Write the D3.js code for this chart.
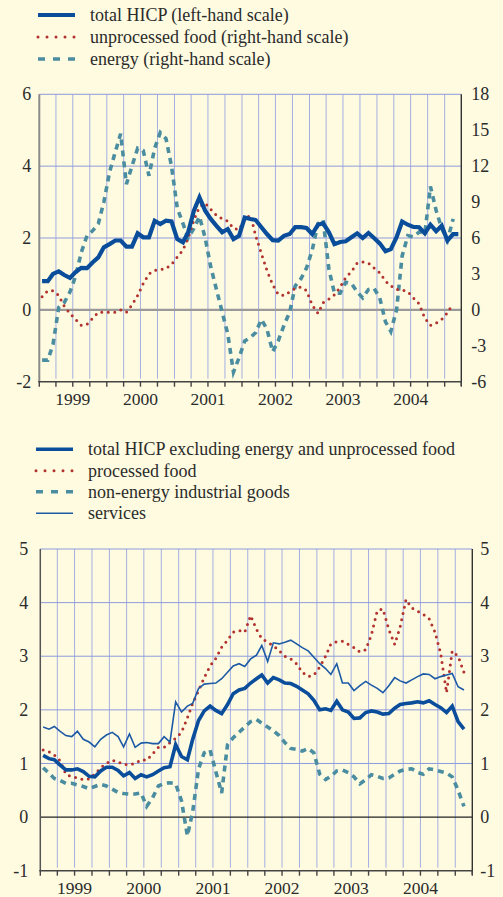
<!DOCTYPE html>
<html>
<head>
<meta charset="utf-8">
<script src="https://cdn.jsdelivr.net/npm/d3@7"></script>
<style>
  body { margin: 0; background: #fefbe1; }
  svg { display: block; }
  svg text { font-family: "Liberation Serif", "Times New Roman", serif; }
</style>
</head>
<body>
<script>
// monthly observations from January 1999, plotted mid-month
const yearLabels = [1999, 2000, 2001, 2002, 2003, 2004];

// upper chart: left scale for total HICP, right scale for the two volatile parts
const leftTicksTop = [-2, 0, 2, 4, 6];
const rightTicksTop = [-6, -3, 0, 3, 6, 9, 12, 15, 18];

const hicpTotal = [0.8, 0.8, 1.0, 1.07, 0.97, 0.89, 1.05, 1.17, 1.16, 1.32, 1.46, 1.74,
  1.83, 1.93, 1.93, 1.76, 1.76, 2.13, 2.02, 2.02, 2.48, 2.39, 2.48, 2.46,
  1.97, 1.88, 2.16, 2.76, 3.13, 2.76, 2.53, 2.34, 2.16, 2.25, 1.97, 2.06,
  2.57, 2.53, 2.5, 2.3, 2.11, 1.94, 1.93, 2.06, 2.11, 2.3, 2.3, 2.28,
  2.11, 2.37, 2.41, 2.16, 1.83, 1.89, 1.91, 2.02, 2.13, 2.0, 2.14, 2.0,
  1.85, 1.63, 1.69, 2.02, 2.46, 2.37, 2.31, 2.3, 2.13, 2.37, 2.19, 2.34,
  1.93, 2.11, 2.11];

const unprocessedFood = [1.1, 1.6, 1.6, 1.2, 0.3, -0.3, -0.8, -1.3, -1.2, -0.7, -0.2, -0.2,
  -0.2, -0.2, 0, -0.2, 0.4, 1.2, 2.2, 3.0, 3.3, 3.35, 3.45, 3.8,
  4.4, 5.0, 6.0, 7.5, 8.6, 8.9, 8.4, 7.9, 7.6, 7.4, 6.8, 6.7,
  7.6, 7.9, 6.2, 4.7, 3.3, 2.1, 1.3, 1.2, 1.5, 1.8, 1.9, 1.6,
  0.4, -0.3, 0.6, 0.9, 1.25, 1.9, 2.7, 3.2, 3.9, 4.0, 3.9, 3.5,
  3.1, 2.4, 2.0, 1.7, 1.67, 1.5, 1.0, 0.5, -0.7, -1.3, -1.1, -0.8,
  -0.25, 0.55];

const energy = [-4.2, -4.2, -2.9, 0.2, 0.6, 1.5, 2.8, 4.8, 6.2, 6.6, 7.2, 9.0,
  11.5, 13.2, 14.7, 10.5, 12.0, 13.5, 13.3, 11.2, 13.5, 14.8, 14.3, 12.0,
  8.5, 7.2, 6.0, 6.8, 7.8, 6.0, 3.6, 1.7, -0.2, -2.0, -5.2, -4.0,
  -2.6, -2.3, -1.9, -0.8, -1.6, -3.5, -2.6, -1.3, -0.2, 2.0, 2.6, 3.5,
  5.0, 7.2, 7.5, 3.4, 1.4, 1.4, 2.3, 2.2, 1.5, 1.0, 1.7, 1.8,
  1.0, -1.0, -1.8, 0.0, 4.5, 6.2, 6.1, 6.5, 6.4, 10.3, 8.3, 6.8,
  5.8, 7.6];

// lower chart: one scale, same on both sides
const ticksBottom = [-1, 0, 1, 2, 3, 4, 5];

const hicpExcl = [1.15, 1.09, 1.07, 0.97, 0.88, 0.88, 0.9, 0.85, 0.76, 0.75, 0.86, 0.93,
  0.93, 0.87, 0.77, 0.83, 0.72, 0.79, 0.75, 0.79, 0.86, 0.92, 0.94, 1.35,
  1.13, 1.07, 1.45, 1.8, 1.98, 2.07, 1.99, 1.93, 2.1, 2.3, 2.37, 2.4,
  2.5, 2.58, 2.65, 2.5, 2.6, 2.56, 2.5, 2.49, 2.44, 2.37, 2.3, 2.18,
  2.0, 2.02, 1.99, 2.16, 2.0, 1.96, 1.84, 1.85, 1.95, 1.98, 1.96, 1.92,
  1.93, 2.03, 2.1, 2.12, 2.13, 2.15, 2.13, 2.17, 2.1, 2.04, 1.95, 2.07,
  1.78, 1.64];

const processedFood = [1.25, 1.22, 1.16, 1.05, 0.8, 0.75, 0.73, 0.7, 0.71, 0.8, 0.92, 1.0,
  1.06, 1.03, 0.98, 0.98, 1.0, 1.07, 1.06, 1.18, 1.3, 1.3, 1.39, 1.47,
  1.58, 1.85, 2.12, 2.36, 2.6, 2.82, 2.96, 3.17, 3.3, 3.45, 3.48, 3.45,
  3.76, 3.5, 3.33, 3.26, 3.2, 3.1, 3.0, 2.95, 2.86, 2.7, 2.62, 2.65,
  2.8, 3.0, 3.23, 3.27, 3.28, 3.22, 3.16, 3.08, 3.12, 3.4, 3.85, 3.88,
  3.5, 3.22, 3.55, 4.06, 3.9, 3.84, 3.78, 3.7, 3.45, 3.05, 2.32, 3.1,
  3.0, 2.7];

const nonEnergyGoods = [0.92, 0.82, 0.72, 0.68, 0.63, 0.63, 0.6, 0.57, 0.53, 0.57, 0.61, 0.58,
  0.52, 0.46, 0.44, 0.43, 0.43, 0.45, 0.2, 0.36, 0.58, 0.63, 0.64, 0.62,
  0.3, -0.35, 0.1, 0.9, 1.2, 1.25, 0.85, 0.45, 1.35, 1.48, 1.58, 1.68,
  1.78, 1.82, 1.75, 1.68, 1.61, 1.52, 1.39, 1.28, 1.26, 1.23, 1.28, 1.2,
  0.8, 0.7, 0.76, 0.86, 0.88, 0.83, 0.75, 0.62, 0.7, 0.79, 0.76, 0.72,
  0.73, 0.8, 0.86, 0.89, 0.9, 0.83, 0.8, 0.9, 0.88, 0.85, 0.82, 0.75,
  0.5, 0.2];

const services = [1.68, 1.64, 1.69, 1.6, 1.52, 1.5, 1.6, 1.45, 1.4, 1.31, 1.45, 1.53,
  1.58, 1.5, 1.31, 1.55, 1.3, 1.38, 1.39, 1.37, 1.37, 1.5, 1.4, 2.15,
  1.96, 2.07, 2.12, 2.4, 2.48, 2.49, 2.5, 2.58, 2.7, 2.82, 2.86, 2.81,
  2.95, 3.02, 3.2, 2.9, 3.25, 3.23, 3.26, 3.3, 3.23, 3.16, 3.1, 2.98,
  2.86, 2.77, 2.66, 2.86, 2.5, 2.5, 2.36, 2.45, 2.53, 2.46, 2.4, 2.32,
  2.45, 2.6, 2.54, 2.5, 2.56, 2.62, 2.67, 2.66, 2.58, 2.62, 2.65, 2.68,
  2.43, 2.37];

const W = 503, H = 897;
const FONT = "'Liberation Serif', 'Times New Roman', serif";
const blue = "#0a4d9b", red = "#b2322e", teal = "#4b8da0", thinBlue = "#1c5aa6";
const styles = {
  thickTop: { stroke: blue, width: 4.2, dash: null, cap: "butt" },
  thickBot: { stroke: blue, width: 3.6, dash: null, cap: "butt" },
  dots: { stroke: red, width: 3, dash: "0,6.5", cap: "round" },
  dashes: { stroke: teal, width: 3.6, dash: "6,5", cap: "butt" },
  thin: { stroke: thinBlue, width: 1.6, dash: null, cap: "butt" }
};

const svg = d3.select("body").append("svg")
  .attr("width", W).attr("height", H)
  .style("background", "#fefbe1");

const t0 = new Date(1999, 0, 1), t1 = new Date(2005, 3, 1);
const monthDate = i => new Date(1999, i, 16);

function legend(items, x0, rows) {
  const g = svg.append("g");
  items.forEach((it, k) => {
    const st = styles[it.style];
    g.append("line")
      .attr("x1", x0).attr("x2", x0 + 37)
      .attr("y1", rows[k]).attr("y2", rows[k])
      .attr("stroke", st.stroke)
      .attr("stroke-width", it.style === "dots" ? 3 : st.width)
      .attr("stroke-linecap", st.cap)
      .attr("stroke-dasharray", it.style === "dots" ? "0,9" : it.style === "dashes" ? "7,8" : null);
    g.append("text")
      .attr("x", x0 + 52).attr("y", rows[k]).attr("dy", "0.33em")
      .attr("font-family", FONT)
      .attr("font-size", 18).attr("fill", "#2b2b2b")
      .text(it.label);
  });
}

function panel(opt) {
  const x = d3.scaleTime().domain([t0, t1]).range([opt.left, opt.right]);
  const yL = d3.scaleLinear().domain(opt.leftDomain).range([opt.bottom, opt.top]);
  const yR = d3.scaleLinear().domain(opt.rightDomain).range([opt.bottom, opt.top]);
  const g = svg.append("g");

  const quarters = d3.timeMonth.every(3).range(t0, new Date(2005, 3, 2));

  // vertical grid, one per quarter
  g.append("g").selectAll("line")
    .data(quarters.slice(1, -1))
    .join("line")
    .attr("x1", d => x(d)).attr("x2", d => x(d))
    .attr("y1", opt.top).attr("y2", opt.bottom - 3)
    .attr("stroke", "#a4afe2").attr("stroke-width", 1);

  // horizontal grid
  g.append("g").selectAll("line")
    .data(opt.hGrid)
    .join("line")
    .attr("x1", opt.left).attr("x2", opt.right)
    .attr("y1", d => yL(d)).attr("y2", d => yL(d))
    .attr("stroke", "#8e9bdc").attr("stroke-width", 1);

  // zero line
  g.append("line")
    .attr("x1", opt.left).attr("x2", opt.right)
    .attr("y1", yL(0)).attr("y2", yL(0))
    .attr("stroke", opt.zeroColor).attr("stroke-width", opt.zeroWidth);

  // series
  opt.series.forEach(s => {
    const st = styles[s.style];
    const y = s.axis === "right" ? yR : yL;
    const line = d3.line().x((d, i) => x(monthDate(i))).y(d => y(d));
    g.append("path")
      .datum(s.values)
      .attr("d", line)
      .attr("fill", "none")
      .attr("stroke", st.stroke)
      .attr("stroke-width", st.width)
      .attr("stroke-linejoin", "miter")
      .attr("stroke-linecap", st.cap)
      .attr("stroke-dasharray", st.dash);
  });

  // side axes
  g.append("line")
    .attr("x1", opt.left).attr("x2", opt.left)
    .attr("y1", opt.top).attr("y2", opt.bottom)
    .attr("stroke", opt.leftAxisColor).attr("stroke-width", opt.leftAxisWidth);
  g.append("line")
    .attr("x1", opt.right).attr("x2", opt.right)
    .attr("y1", opt.top).attr("y2", opt.bottom + 4)
    .attr("stroke", "#333").attr("stroke-width", 1.4);

  // bottom time axis with quarter ticks
  g.append("line")
    .attr("x1", opt.left - 1).attr("x2", opt.right)
    .attr("y1", opt.bottom).attr("y2", opt.bottom)
    .attr("stroke", "#444").attr("stroke-width", 1.4);
  g.append("g").selectAll("line")
    .data(quarters)
    .join("line")
    .attr("x1", d => x(d)).attr("x2", d => x(d))
    .attr("y1", opt.bottom).attr("y2", opt.bottom + 5)
    .attr("stroke", "#444").attr("stroke-width", 1.4);

  g.append("g").selectAll("text")
    .data(yearLabels)
    .join("text")
    .attr("x", d => x(new Date(d, 6, 1)))
    .attr("y", opt.bottom + 23)
    .attr("text-anchor", "middle")
    .attr("font-family", FONT)
    .attr("font-size", 17.5).attr("fill", "#2b2b2b")
    .text(d => d);

  // tick labels
  g.append("g").selectAll("text")
    .data(opt.leftTicks)
    .join("text")
    .attr("x", opt.left - opt.leftPad)
    .attr("y", d => yL(d)).attr("dy", "0.34em")
    .attr("text-anchor", "end")
    .attr("font-family", FONT)
    .attr("font-size", 18).attr("fill", "#2b2b2b")
    .text(d => String(d));
  g.append("g").selectAll("text")
    .data(opt.rightTicks)
    .join("text")
    .attr("x", opt.right + opt.rightPad)
    .attr("y", d => yR(d)).attr("dy", "0.34em")
    .attr("text-anchor", "start")
    .attr("font-family", FONT)
    .attr("font-size", 18).attr("fill", "#2b2b2b")
    .text(d => String(d));
}

legend([
  { label: "total HICP (left-hand scale)", style: "thickTop" },
  { label: "unprocessed food (right-hand scale)", style: "dots" },
  { label: "energy (right-hand scale)", style: "dashes" }
], 38, [15, 37, 59]);

panel({
  left: 39.3, right: 461.3, top: 94.3, bottom: 381.7,
  leftDomain: [-2, 6], rightDomain: [-6, 18],
  leftTicks: leftTicksTop, rightTicks: rightTicksTop,
  hGrid: [2, 4, 6],
  zeroColor: "#9a9a9a", zeroWidth: 2.2,
  leftAxisColor: "#8a8a8a", leftAxisWidth: 2,
  leftPad: 8, rightPad: 10,
  series: [
    { values: energy, axis: "right", style: "dashes" },
    { values: unprocessedFood, axis: "right", style: "dots" },
    { values: hicpTotal, axis: "left", style: "thickTop" }
  ]
});

legend([
  { label: "total HICP excluding energy and unprocessed food", style: "thickBot" },
  { label: "processed food", style: "dots" },
  { label: "non-energy industrial goods", style: "dashes" },
  { label: "services", style: "thin" }
], 36, [449.3, 470.7, 491.7, 513.3]);

panel({
  left: 40.3, right: 472.3, top: 549, bottom: 870.7,
  leftDomain: [-1, 5], rightDomain: [-1, 5],
  leftTicks: ticksBottom, rightTicks: ticksBottom,
  hGrid: [1, 2, 3, 4, 5],
  zeroColor: "#222", zeroWidth: 1.3,
  leftAxisColor: "#555", leftAxisWidth: 1.5,
  leftPad: 12, rightPad: 8,
  series: [
    { values: nonEnergyGoods, axis: "left", style: "dashes" },
    { values: processedFood, axis: "left", style: "dots" },
    { values: services, axis: "left", style: "thin" },
    { values: hicpExcl, axis: "left", style: "thickBot" }
  ]
});
</script>
</body>
</html>
